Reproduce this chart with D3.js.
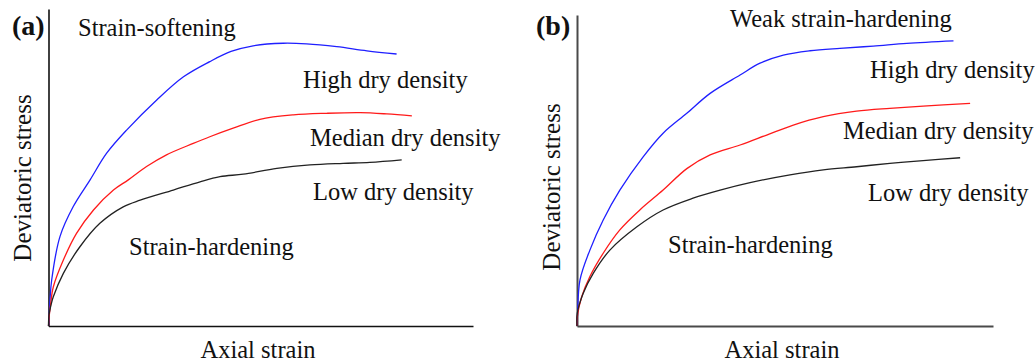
<!DOCTYPE html>
<html>
<head>
<meta charset="utf-8">
<script src="https://cdn.jsdelivr.net/npm/d3@7"></script>
<style>
  html, body { margin: 0; padding: 0; background: #fff; }
  svg text { font-family: "Liberation Serif", "Times New Roman", serif; fill: #111; }
</style>
</head>
<body>
<svg id="chart" width="1035" height="364"></svg>
<script>
// Normalised stress–strain curves, [axial strain, deviatoric stress] on a 0–100 scale.
// Panel (a): strain-softening behaviour
const aHigh = [[0,0],[0.12,1.9],[0.35,8.2],[0.75,14.5],[2.7,28.2],[5.8,37.6],[9.8,46.1],[13.7,54.5],[18.4,61.8],[25.5,71.3],[31.8,78.6],[38.0,83.4],[43.0,86.6],[48.2,88.4],[55.3,89.2],[60.8,89.0],[67.9,88.1],[75.0,86.8],[82.0,85.8]];
const aMedian = [[0,0],[0.12,2.5],[0.47,6.6],[1.13,12.3],[3.5,20.8],[6.6,29.2],[10.6,36.6],[15.3,42.9],[18.8,46.1],[23.1,50.3],[27.8,54.0],[34.1,57.6],[38.0,59.7],[43.5,62.4],[49.8,65.2],[57.7,66.6],[65.5,67.1],[73.4,67.3],[79.7,66.9],[85.6,66.3]];
const aLow = [[0,0],[0.12,3.5],[0.59,6.6],[1.13,9.2],[3.5,16.6],[7.4,25.0],[12.1,32.4],[17.6,37.6],[21.6,39.7],[29.4,42.9],[35.7,45.5],[40.4,47.1],[45.9,47.9],[53.8,49.7],[61.6,50.8],[69.4,51.3],[75.7,51.6],[83.2,52.4]];

// Panel (b): weak strain-hardening behaviour
const bHigh = [[0,0],[0.12,3.5],[0.72,14.8],[3.1,24.4],[6.3,34.1],[10.3,43.7],[15.9,54.4],[20.7,62.0],[26.4,68.4],[32.0,74.8],[39.2,80.7],[44.0,84.5],[49.6,87.1],[56.0,88.5],[63.2,89.3],[71.2,90.0],[79.3,90.9],[90.5,91.7]];
const bMedian = [[0,0],[0.07,3.0],[1.13,9.4],[3.1,15.9],[6.3,23.4],[10.3,30.9],[15.1,37.3],[20.7,43.7],[26.4,50.6],[32.0,55.0],[39.2,58.2],[45.6,61.4],[52.0,64.6],[59.2,67.3],[67.2,69.1],[75.2,70.0],[83.2,70.7],[94.5,71.6]];
const bLow = [[0,0],[0.07,4.1],[1.5,10.5],[3.9,16.9],[7.9,24.4],[14.4,31.9],[20.7,37.3],[27.9,41.1],[34.4,43.7],[41.6,46.1],[51.2,48.6],[59.2,50.2],[67.2,51.2],[75.2,52.3],[83.2,53.2],[92.1,54.1]];

const panelTags = ["(a)", "(b)"];
const behaviourLabels = ["Strain-softening", "Weak strain-hardening"];
const densityLabels = ["High dry density", "Median dry density", "Low dry density"];
const lowerLabel = "Strain-hardening";
const xTitle = "Axial strain";
const yTitle = "Deviatoric stress";
const seriesColors = ["#1f1fff", "#ff1a1a", "#222222"];

const svg = d3.select("#chart");
const FS = 24.5;

const panels = [
  {
    series: [aHigh, aMedian, aLow],
    x: d3.scaleLinear().domain([0, 100]).range([48.5, 473]),
    y: d3.scaleLinear().domain([0, 100]).range([326, 9]),
    axisColor: "#111", axisWidth: 1.6,
    tag: [12, 35],
    behaviour: [78, 36],
    density: [[303, 88], [310, 146], [313, 200]],
    lower: [129, 255],
    xTitle: [258, 358],
    yTitle: [31, 178]
  },
  {
    series: [bHigh, bMedian, bLow],
    x: d3.scaleLinear().domain([0, 100]).range([577, 993]),
    y: d3.scaleLinear().domain([0, 100]).range([326, 15]),
    axisColor: "#4a4a4a", axisWidth: 2,
    tag: [536, 35],
    behaviour: [730, 27],
    density: [[870, 78], [843, 139], [868, 201]],
    lower: [668, 253],
    xTitle: [782, 358],
    yTitle: [560, 187]
  }
];

panels.forEach((p, i) => {
  const g = svg.append("g");

  // axes: plain lines without ticks
  const xAxis = g.append("g")
    .attr("transform", `translate(0,${p.y(0)})`)
    .call(d3.axisBottom(p.x).ticks(0).tickSizeOuter(0));
  const yAxis = g.append("g")
    .attr("transform", `translate(${p.x(0)},0)`)
    .call(d3.axisLeft(p.y).ticks(0).tickSizeOuter(0));
  [xAxis, yAxis].forEach(a => a.select(".domain")
    .attr("stroke", p.axisColor)
    .attr("stroke-width", p.axisWidth));

  // curves
  const line = d3.line()
    .x(d => p.x(d[0]))
    .y(d => p.y(d[1]))
    .curve(d3.curveCatmullRom.alpha(0.5));

  p.series.forEach((s, k) => {
    g.append("path")
      .datum(s)
      .attr("d", line)
      .attr("fill", "none")
      .attr("stroke", seriesColors[k])
      .attr("stroke-width", 1.3)
      .attr("stroke-linejoin", "round");
  });

  // labels
  g.append("text")
    .attr("x", p.tag[0]).attr("y", p.tag[1])
    .attr("font-size", 28).attr("font-weight", "bold")
    .text(panelTags[i]);

  g.append("text")
    .attr("x", p.behaviour[0]).attr("y", p.behaviour[1])
    .attr("font-size", FS)
    .text(behaviourLabels[i]);

  densityLabels.forEach((t, k) => {
    g.append("text")
      .attr("x", p.density[k][0]).attr("y", p.density[k][1])
      .attr("font-size", FS)
      .text(t);
  });

  g.append("text")
    .attr("x", p.lower[0]).attr("y", p.lower[1])
    .attr("font-size", FS)
    .text(lowerLabel);

  g.append("text")
    .attr("x", p.xTitle[0]).attr("y", p.xTitle[1])
    .attr("font-size", FS)
    .attr("text-anchor", "middle")
    .text(xTitle);

  g.append("text")
    .attr("transform", `translate(${p.yTitle[0]},${p.yTitle[1]}) rotate(-90)`)
    .attr("font-size", FS + 0.5)
    .attr("text-anchor", "middle")
    .text(yTitle);
});
</script>
</body>
</html>
